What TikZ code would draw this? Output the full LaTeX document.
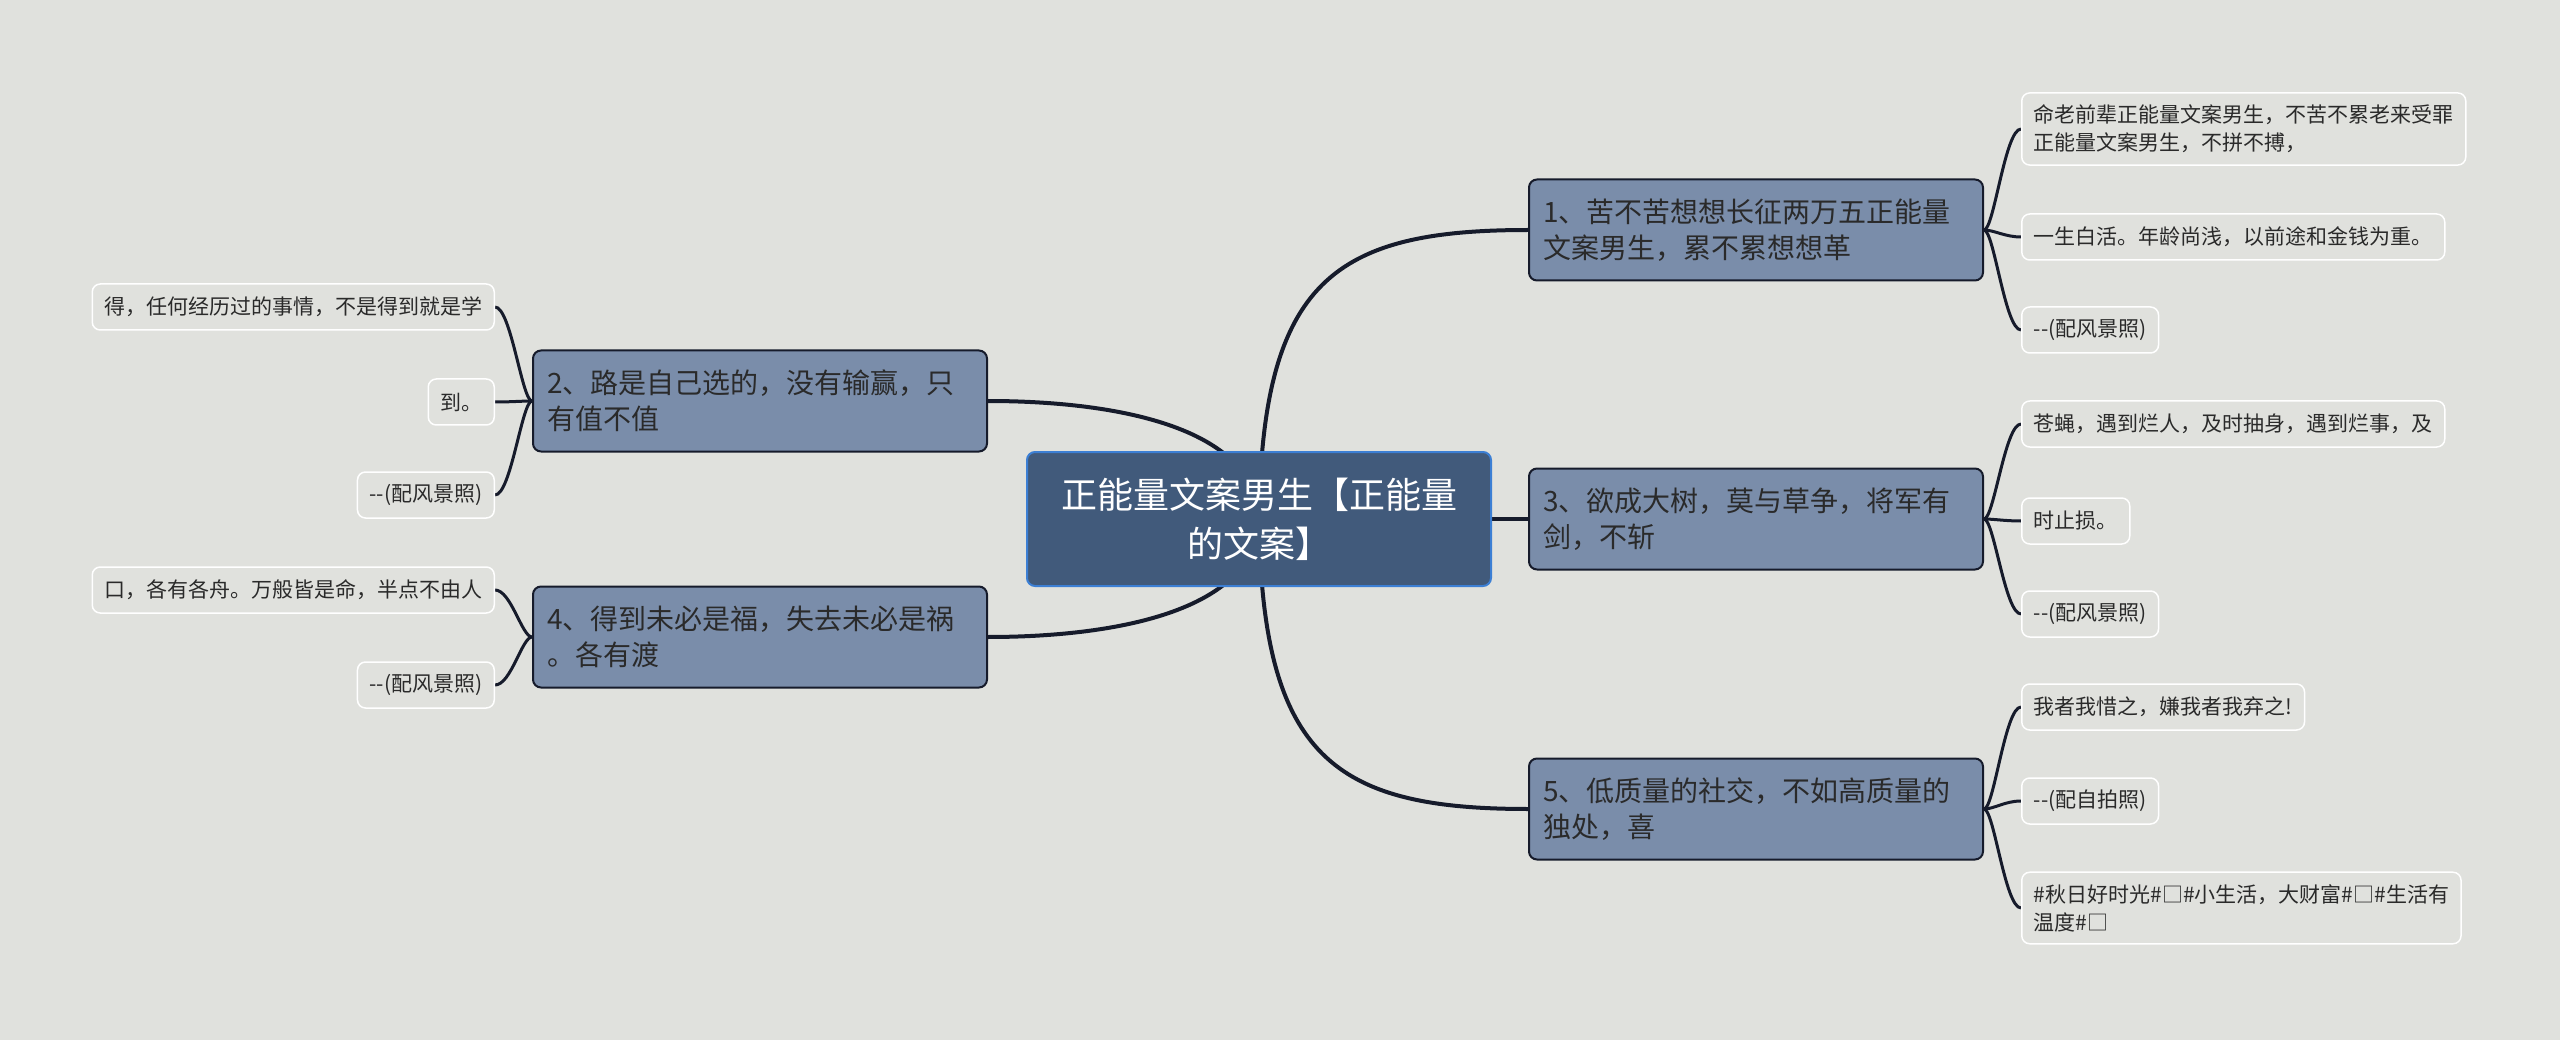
\documentclass[tikz,border=0pt]{standalone}
\usepackage{fontspec}
\setmainfont{Noto Sans CJK SC}
\definecolor{bgc}{HTML}{E0E1DD}
\definecolor{rootfill}{HTML}{415A7B}
\definecolor{rootline}{HTML}{3C7FD4}
\definecolor{topicfill}{HTML}{7A8DAA}
\definecolor{ink}{HTML}{161B2B}
\definecolor{txt}{HTML}{2A2A2A}
\pgfdeclarelayer{wires}
\pgfsetlayers{wires,main}
\begin{document}
\begin{tikzpicture}[x=1pt,y=-1pt,line cap=round,line join=round,
  root/.style={draw=rootline,line width=2pt,fill=rootfill,rounded corners=8pt,text=white,
    font=\fontsize{36}{49}\selectfont,align=center,minimum width=464pt,minimum height=134pt,inner sep=0pt},
  topic/.style={draw=ink,line width=2pt,fill=topicfill,rounded corners=8pt,text=txt,
    font=\fontsize{28}{36}\selectfont,align=left,text width=426pt,inner xsep=14pt,minimum height=101pt},
  leaf/.style={draw=white,line width=1.5pt,fill=bgc,rounded corners=8pt,text=txt,
    font=\fontsize{21}{28}\selectfont,align=left,inner xsep=12pt,inner ysep=9pt,minimum height=46pt},
  tallleaf/.style={leaf,inner ysep=12pt},
  link/.style={draw=ink,line width=4pt},
  twig/.style={draw=ink,line width=3pt}]
  \useasboundingbox (0,0) rectangle (2560,1040);
  \begin{pgfonlayer}{wires}
    \fill[bgc] (0,0) rectangle (2560,1040);
  \end{pgfonlayer}
  % centre and main topics
  \node[root] (root) at (1259,519) {正能量文案男生【正能量\\的文案】};
  \node[topic,anchor=west] (n1) at (1528,230) {1、苦不苦想想长征两万五正能量\\文案男生，累不累想想革};
  \node[topic,anchor=west] (n3) at (1528,519) {3、欲成大树，莫与草争，将军有\\剑，不斩};
  \node[topic,anchor=west] (n5) at (1528,809) {5、低质量的社交，不如高质量的\\独处，喜};
  \node[topic,anchor=east] (n2) at (988,401) {2、路是自己选的，没有输赢，只\\有值不值};
  \node[topic,anchor=east] (n4) at (988,637) {4、得到未必是福，失去未必是祸\\。各有渡};
  % leaves, right
  \node[tallleaf,anchor=west] (l1a) at (2021,129) {命老前辈正能量文案男生，不苦不累老来受罪\\正能量文案男生，不拼不搏，};
  \node[leaf,anchor=west] (l1b) at (2021,237) {一生白活。年龄尚浅，以前途和金钱为重。};
  \node[leaf,anchor=west] (l1c) at (2021,330) {-{}-(配风景照)};
  \node[leaf,anchor=west] (l3a) at (2021,424) {苍蝇，遇到烂人，及时抽身，遇到烂事，及};
  \node[leaf,anchor=west] (l3b) at (2021,521) {时止损。};
  \node[leaf,anchor=west] (l3c) at (2021,614) {-{}-(配风景照)};
  \node[leaf,anchor=west] (l5a) at (2021,707) {我者我惜之，嫌我者我弃之!};
  \node[leaf,anchor=west] (l5b) at (2021,801) {-{}-(配自拍照)};
  \node[tallleaf,anchor=west] (l5c) at (2021,908) {\#秋日好时光\#□\#小生活，大财富\#□\#生活有\\温度\#□};
  % leaves, left
  \node[leaf,anchor=east] (l2a) at (495,307) {得，任何经历过的事情，不是得到就是学};
  \node[leaf,anchor=east] (l2b) at (495,402) {到。};
  \node[leaf,anchor=east] (l2c) at (495,495) {-{}-(配风景照)};
  \node[leaf,anchor=east] (l4a) at (495,590) {口，各有各舟。万般皆是命，半点不由人};
  \node[leaf,anchor=east] (l4b) at (495,685) {-{}-(配风景照)};
  \begin{pgfonlayer}{wires}
    \draw[link] (root.center) .. controls (1262,280) and (1335,230) .. (n1.west);
    \draw[link] (root.center) -- (n3.west);
    \draw[link] (root.center) .. controls (1262,758) and (1335,809) .. (n5.west);
    \draw[link] (root.center) .. controls (1256,425) and (1110,401) .. (n2.east);
    \draw[link] (root.center) .. controls (1256,613) and (1110,637) .. (n4.east);
    \foreach \p/\q in {n1/l1a,n1/l1b,n1/l1c,n3/l3a,n3/l3b,n3/l3c,n5/l5a,n5/l5b,n5/l5c}
      \draw[twig] (\p.east) .. controls +(10,0) and +(-16,0) .. (\q.west);
    \foreach \p/\q in {n2/l2a,n2/l2b,n2/l2c,n4/l4a,n4/l4b}
      \draw[twig] (\p.west) .. controls +(-10,0) and +(16,0) .. (\q.east);
  \end{pgfonlayer}
\end{tikzpicture}
\end{document}
